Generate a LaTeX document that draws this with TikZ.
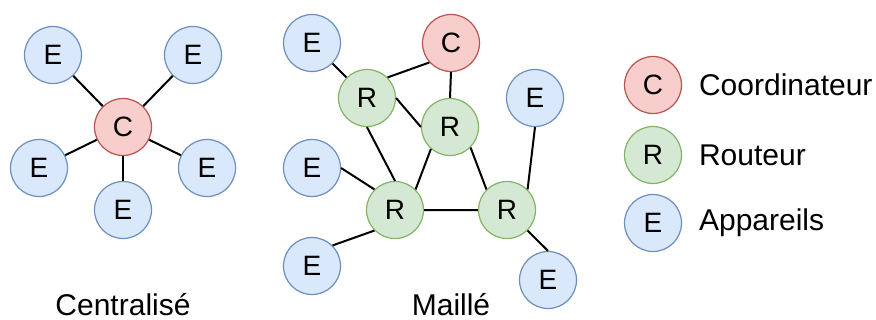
\documentclass[tikz,border=0pt]{standalone}
\usepackage{fontspec}
\setmainfont{Liberation Sans}
\usepackage{tikz}
\usetikzlibrary{positioning}

\definecolor{cfill}{HTML}{F8CECC}
\definecolor{cline}{HTML}{B85450}
\definecolor{rfill}{HTML}{D5E8D4}
\definecolor{rline}{HTML}{82B366}
\definecolor{efill}{HTML}{DAE8FC}
\definecolor{eline}{HTML}{6C8EBF}

\begin{document}
\begin{tikzpicture}[x=0.5pt,y=-0.5pt,
    dev/.style={circle,minimum size=28.5pt,inner sep=0pt,line width=0.6pt,font=\fontsize{14}{16}\selectfont},
    cnode/.style={dev,draw=cline,fill=cfill},
    rnode/.style={dev,draw=rline,fill=rfill},
    enode/.style={dev,draw=eline,fill=efill},
    lien/.style={line width=1pt},
    titre/.style={font=\fontsize{15}{18}\selectfont}]
  \useasboundingbox (0,0) rectangle (876,320);
  % centralise
  \node[cnode] (c0) at (123,127) {C};
  \node[enode] (e1) at (53,55) {E};
  \node[enode] (e2) at (193,55) {E};
  \node[enode] (e3) at (39,168) {E};
  \node[enode] (e4) at (207,168) {E};
  \node[enode] (e5) at (123,210) {E};
  \foreach \e in {e1,e2,e3,e4,e5}{\draw[lien] (c0)--(\e);}
  \node[titre] (t1) at (123,305) {Centralisé};
  % maille
  \node[cnode] (c1) at (451,43) {C};
  \node[rnode] (r1) at (367,98) {R};
  \node[rnode] (r2) at (450,127) {R};
  \node[rnode] (r3) at (395,210) {R};
  \node[rnode] (r4) at (507,210) {R};
  \node[enode] (m1) at (312,43) {E};
  \node[enode] (m2) at (535,98) {E};
  \node[enode] (m3) at (312,168) {E};
  \node[enode] (m4) at (312,266) {E};
  \node[enode] (m5) at (548,280) {E};
  \draw[lien] (m1.-45)--(r1.135) (c1.222)--(r1.45) (c1.south)--(r2.north)
    (r1.east)--(r2.west) (r1.south)--(r3.north) (r2.229)--(r3.45)
    (r2.-45)--(r4.135) (r3.east)--(r4.west) (m3.east)--(r3.135)
    (m4.45)--(r3.225) (m2.south)--(r4.45) (r4.-45)--(m5.north);
  \node[titre] (t2) at (451,305) {Maillé};
  % legende
  \node[cnode] (lc) at (653,85) {C};
  \node[rnode] (lr) at (653,155) {R};
  \node[enode] (le) at (653,223) {E};
  \node[titre,anchor=west] at (692,85) {Coordinateur};
  \node[titre,anchor=west] at (692,155) {Routeur};
  \node[titre,anchor=west] at (692,223) {Appareils};
\end{tikzpicture}
\end{document}
